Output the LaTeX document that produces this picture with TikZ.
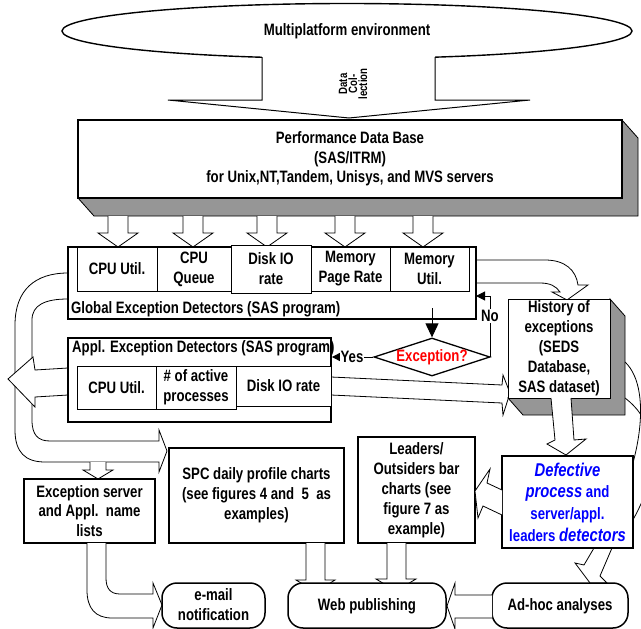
\documentclass[tikz,border=0pt]{standalone}
\usepackage{fontspec}
\setmainfont[FakeStretch=0.8]{Liberation Sans}
\usetikzlibrary{shapes.geometric,arrows.meta}
\definecolor{shadegray}{RGB}{150,150,150}
\begin{document}
\begin{tikzpicture}[x=1pt,y=-1pt,
  txt/.style={font=\fontsize{16.5}{20}\selectfont\bfseries, align=center, inner sep=0pt},
  bigbox/.style={draw, line width=1.8pt, fill=white, inner sep=0pt},
  cellbox/.style={draw, line width=0.9pt, fill=white, inner sep=0pt, txt},
  blk/.style={draw, line width=0.8pt, fill=white, line join=miter},
  rbox/.style={draw, line width=1.5pt, fill=white, rounded corners=15pt, inner sep=0pt},
  shadeface/.style={draw, line width=0.8pt, fill=shadegray},
  thinarrow/.style={line width=1pt, -{Triangle[length=9pt,width=9pt]}},
]
\useasboundingbox (0,0) rectangle (641,629);

% right curved arrow from history to ad-hoc (under boxes)
\draw[line width=0.8pt] (625,362) .. controls (655,390) and (640,480) .. (594,548) -- (584,565) -- (575,563) -- (590,583) -- (607,583) -- (600,576) -- (612,548) .. controls (640,520) and (680,440) .. (625,398);

% environment ellipse
\node[draw, ellipse, line width=1.4pt, fill=white, minimum width=570pt, minimum height=55pt, inner sep=0pt, txt] (env) at (347,31) {Multiplatform environment};

% data collection arrow
\fill[white] (262,55) -- (262,100) -- (168,100) -- (349,118) -- (530,100) -- (435,100) -- (435,55) -- cycle;
\draw[line width=1pt, line join=miter] (262,57) -- (262,100) -- (168,100) -- (349,118) -- (530,100) -- (435,100) -- (435,57);
\node[font=\fontsize{12}{10}\selectfont\bfseries, align=center, rotate=90, inner sep=0pt] (dc) at (353,84) {Data\\Col-\\lection};

% performance data base (3D box)
\filldraw[shadeface] (78,198) -- (94,216) -- (638,216) -- (638,138) -- (622,120) -- (622,198) -- cycle;
\node[draw, line width=1.1pt, fill=white, minimum width=544pt, minimum height=78pt, inner sep=0pt] (pdb) at (350,159) {};
\node[txt, font=\fontsize{16.5}{19.5}\selectfont\bfseries] (pdbt) at (350,159) {Performance Data Base\\(SAS/ITRM)\\for Unix,NT,Tandem, Unisys, and MVS servers};

% small arrows from PDB to cells
\foreach \x in {118,193,267,345,423}{
  \filldraw[blk] ({\x-10},216) -- ({\x-10},233) -- ({\x-20},233) -- (\x,247) -- ({\x+20},233) -- ({\x+10},233) -- ({\x+10},216);
}

% left U arrow
\filldraw[blk] (68,273) .. controls (35,273) and (15,290) .. (15,325) -- (15,430) .. controls (15,452) and (25,462) .. (45,462) -- (159,462) -- (159,472) -- (167,451) -- (159,430) -- (159,441) -- (50,441) .. controls (38,441) and (32,435) .. (32,420) -- (32,320) .. controls (32,305) and (45,299) .. (68,299);

% curved arrow global -> history
\draw[line width=0.8pt, line join=miter] (476,260) -- (545,260) .. controls (565,260) and (576,270) .. (578,285) -- (588,285) -- (567,300) -- (552,292) -- (560,292) .. controls (556,286) and (550,283) .. (540,283) -- (476,283);

% global exception detectors
\node[bigbox, minimum width=408pt, minimum height=72pt] (gbox) at (272,283) {};
\node[cellbox, minimum width=80pt, minimum height=44pt] (gcpu) at (117,269) {CPU Util.};
\node[cellbox, minimum width=74pt, minimum height=44pt] (gque) at (194,269) {CPU\\Queue};
\node[cellbox, minimum width=79pt, minimum height=44pt] (gmpr) at (350.5,269) {Memory\\Page Rate};
\node[cellbox, minimum width=79pt, minimum height=44pt] (gmem) at (429.5,269) {Memory\\Util.};
\node[cellbox, minimum width=80pt, minimum height=48pt] (gdisk) at (271,269) {Disk IO\\rate};
\node[txt, anchor=west] (glabel) at (71,309) {Global Exception Detectors (SAS program)};

% left arrow from appl box
\filldraw[blk] (68,368) -- (35,370) -- (33,357) -- (8,379) -- (35,407) -- (35,397) -- (68,395);

% small arrow to exception server box
\filldraw[blk] (90,462) -- (90,470) -- (83,470) -- (98,479) -- (113,470) -- (106,470) -- (106,462);

% block arrow appl -> history
\filldraw[blk] (331,377) -- (502,385) -- (503,375) -- (510,393) -- (503,415) -- (502,403) -- (331,395);

% appl exception detectors
\node[bigbox, minimum width=263pt, minimum height=84pt] (abox) at (199.5,380) {};
\node[txt, anchor=west] (alabel) at (72,348) {Appl. Exception Detectors (SAS program)};
\node[cellbox, minimum width=79pt, minimum height=43pt] (acpu) at (116.5,387.5) {CPU Util.};
\node[cellbox, minimum width=80pt, minimum height=43pt] (aproc) at (196,387.5) {\# of active\\processes};
\node[cellbox, minimum width=95pt, minimum height=40pt] (adisk) at (283.5,386) {Disk IO rate};

% exception diamond
\node[draw, diamond, line width=1.3pt, fill=white, minimum width=116pt, minimum height=38pt, inner sep=0pt] (exc) at (432,357) {};
\node[txt, text=red] (exct) at (exc.center) {Exception?};
\coordinate (gstart) at (432,308);
\draw[line width=1pt, -{Triangle[length=14pt,width=13pt]}] (gstart) -- (exc.north);
\coordinate (nob) at (476,296);
\draw[thinarrow] (exc.east) |- (nob);
\node[txt, fill=white, inner sep=1pt] (nolab) at (490,316) {No};
\draw[thinarrow] (exc.west) -- (abox.east |- exc.west);
\node[txt, fill=white, inner sep=1pt] (yeslab) at (352,357) {Yes};

% history of exceptions (3D box)
\filldraw[shadeface] (508,398) -- (523,415) -- (625,415) -- (625,316) -- (610,299) -- (610,398) -- cycle;
\node[draw, line width=1pt, fill=white, minimum width=102pt, minimum height=99pt, inner sep=0pt] (hist) at (559,348.5) {};
\node[txt] (histt) at (559,348) {History of\\exceptions\\(SEDS\\Database,\\SAS dataset)};

% arrow history -> defective
\filldraw[blk] (551,398) -- (555,440) -- (547,444) -- (566,455) -- (586,439) -- (574,440) -- (571,398);

% exception server list box
\node[bigbox, txt, minimum width=131pt, minimum height=64pt, font=\fontsize{16.5}{19.5}\selectfont\bfseries] (exsrv) at (89.5,511) {Exception server\\and Appl.\ \ name\\lists};

% arrow exception server -> e-mail
\filldraw[blk] (87,543) -- (87,590) .. controls (87,608) and (95,618) .. (112,618) -- (153,618) -- (153,628) -- (162,605) -- (153,583) -- (153,594) -- (120,594) .. controls (110,594) and (106,588) .. (106,578) -- (106,543);

% SPC box
\node[bigbox, txt, minimum width=175pt, minimum height=95pt] (spc) at (256.5,495.5) {SPC daily profile charts\\(see figures 4 and\ \ 5\ \ as\\examples)};

% Leaders box
\node[bigbox, txt, minimum width=117pt, minimum height=106pt] (lead) at (416.5,490) {Leaders/\\Outsiders bar\\charts (see\\figure 7 as\\example)};

% arrows to web publishing
\filldraw[blk] (306,543) -- (306,580) -- (296,580) -- (316,592) -- (335,580) -- (325,580) -- (325,543);
\filldraw[blk] (387,543) -- (387,579) -- (376,579) -- (396,591) -- (416,579) -- (406,579) -- (406,543);

% Defective box
\node[bigbox, txt, text=blue, minimum width=131pt, minimum height=92pt, font=\fontsize{16.5}{21.7}\selectfont\bfseries] (defect) at (567.5,502) {{\fontsize{18.5}{21.7}\selectfont\itshape Defective}\\{\fontsize{18.5}{21.7}\selectfont\itshape process} and\\server/appl.\\leaders {\fontsize{18.5}{21.7}\selectfont\itshape detectors}};

% arrow defective -> leaders
\filldraw[blk] (502,490) -- (487,483) -- (490,469) -- (475,491) -- (478,518) -- (483,506) -- (502,515);

% rounded bottom boxes
\node[rbox, minimum width=103pt, minimum height=45pt] (email) at (213.5,605.5) {};
\node[txt] (emailt) at (213.5,605) {e-mail\\notification};
\node[rbox, minimum width=158pt, minimum height=45pt] (web) at (367,605.5) {};
\node[txt] (webt) at (367,606) {Web publishing};
\node[rbox, minimum width=136pt, minimum height=45pt] (adhoc) at (560,605.5) {};
\node[txt] (adhoct) at (560,606) {Ad-hoc analyses};

% arrow ad-hoc -> web
\filldraw[blk] (492,595) -- (455,595) -- (455,583) -- (447,606) -- (455,629) -- (455,618) -- (492,618);

\end{tikzpicture}
\end{document}
